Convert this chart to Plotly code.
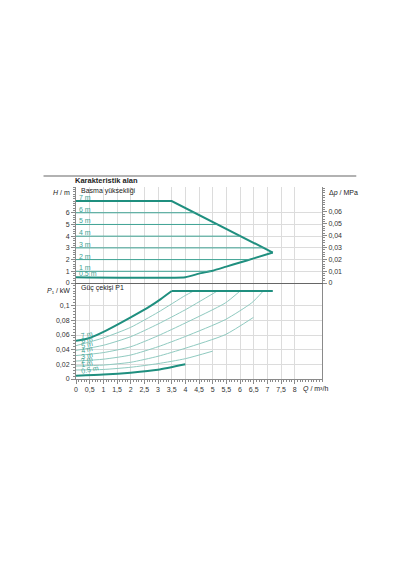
import plotly.graph_objects as go

# --- data ---
# head field (top panel)
q_upper = [0, 3.5, 7.2]
h_upper = [7, 7, 2.6]
q_lower = [0, 4.0, 4.5, 5.0, 5.5, 6.0, 6.5, 7.2]
h_lower = [0.5, 0.5, 0.8, 1.05, 1.4, 1.75, 2.1, 2.6]

head_levels = [6, 5, 4, 3, 2, 1]
head_line_end = [4.34, 5.18, 6.02, 6.86, 6.36, 4.95]
head_labels = ["7 m", "6 m", "5 m", "4 m", "3 m", "2 m", "1 m", "0.5 m"]
head_label_y = [7, 6, 5, 4, 3, 2, 1, 0.5]

# power curves (bottom panel)
q_pmax = [0, 0.5, 1.1, 2.0, 2.7, 3.1, 3.5]
p_pmax = [0.052, 0.056, 0.066, 0.084, 0.099, 0.109, 0.120]
q_plimit = [3.5, 7.2]
p_plimit = [0.120, 0.120]
q_pmin = [0, 1, 2, 3, 4.0]
p_pmin = [0.0045, 0.006, 0.0086, 0.0125, 0.020]

q_p = [
    [0, 1, 2, 3, 4, 4.3],
    [0, 1, 2, 3, 4, 5.17],
    [0, 1, 2, 3, 4, 5.46, 6.0],
    [0, 1, 2, 3, 4, 5.46, 6.43, 6.85],
    [0, 1, 2, 3, 4, 5.46, 6.49],
    [0, 1, 2, 3, 4, 5.0],
]
p_p = [
    [0.0455, 0.056, 0.0705, 0.091, 0.114, 0.120],
    [0.039, 0.046, 0.0577, 0.075, 0.0945, 0.120],
    [0.032, 0.036, 0.044, 0.059, 0.0764, 0.1037, 0.120],
    [0.0245, 0.027, 0.0327, 0.044, 0.058, 0.081, 0.104, 0.120],
    [0.0177, 0.019, 0.0228, 0.031, 0.042, 0.0605, 0.084],
    [0.0123, 0.013, 0.016, 0.021, 0.0277, 0.038],
]
p_label_y = [0.052, 0.0455, 0.039, 0.032, 0.0245, 0.0177, 0.0123, 0.0045]

x_ticks = [i * 0.5 for i in range(17)]
x_ticktext = ["0", "0,5", "1", "1,5", "2", "2,5", "3", "3,5", "4", "4,5",
              "5", "5,5", "6", "6,5", "7", "7,5", "8"]

thick = "#1f8f7f"
mid = "#3ea394"
thin = "#8fcac0"
grid = "#dcdcdc"
axc = "#8a8a8a"
font = "Liberation Sans, Arial, sans-serif"

# plot area in page pixels (page body has an 8px margin)
L, R, T, B = 75.5, 321.7, 187, 379
OFF = 8


def px(x, y):
    return (x - L) / (R - L), (B - y) / (B - T)


fig = go.Figure()

# top panel
fig.add_trace(go.Scatter(x=q_upper, y=h_upper, xaxis="x2", yaxis="y2", mode="lines",
                         line=dict(color=thick, width=2), hoverinfo="skip"))
fig.add_trace(go.Scatter(x=q_lower, y=h_lower, xaxis="x2", yaxis="y2", mode="lines",
                         line=dict(color=thick, width=2, shape="spline", smoothing=0.5),
                         hoverinfo="skip"))
for h, qe in zip(head_levels, head_line_end):
    fig.add_trace(go.Scatter(x=[0, qe], y=[h, h], xaxis="x2", yaxis="y2", mode="lines",
                             line=dict(color=mid, width=1), hoverinfo="skip"))

# bottom panel
for qs, ps in zip(q_p, p_p):
    fig.add_trace(go.Scatter(x=qs, y=ps, xaxis="x", yaxis="y", mode="lines",
                             line=dict(color=thin, width=1, shape="spline", smoothing=0.6),
                             hoverinfo="skip"))
fig.add_trace(go.Scatter(x=q_pmax, y=p_pmax, xaxis="x", yaxis="y", mode="lines",
                         line=dict(color=thick, width=2, shape="spline", smoothing=0.6),
                         hoverinfo="skip"))
fig.add_trace(go.Scatter(x=q_plimit, y=p_plimit, xaxis="x", yaxis="y", mode="lines",
                         line=dict(color=thick, width=2), hoverinfo="skip"))
fig.add_trace(go.Scatter(x=q_pmin, y=p_pmin, xaxis="x", yaxis="y", mode="lines",
                         line=dict(color=thick, width=2, shape="spline", smoothing=0.6),
                         hoverinfo="skip"))
# invisible trace so the right axis is drawn
fig.add_trace(go.Scatter(x=[0], y=[0], xaxis="x2", yaxis="y3", mode="markers",
                         marker=dict(opacity=0), hoverinfo="skip"))

ann = []
for lab, hy in zip(head_labels, head_label_y):
    ann.append(dict(x=0, y=hy, xref="x2", yref="y2", text=lab, showarrow=False,
                    xanchor="left", yanchor="bottom", xshift=1, yshift=-2,
                    font=dict(size=7, color=mid)))
for lab, py in zip(head_labels, p_label_y):
    ann.append(dict(x=0, y=py, xref="x", yref="y", text=lab, showarrow=False,
                    xanchor="left", yanchor="bottom", xshift=2, yshift=-1, textangle=-12,
                    font=dict(size=7, color=mid)))

texts = [
    (72, 180, "<b>Karakteristik alan</b>", "left", 7.5),
    (79, 191, "Basma yüksekliği", "left", 7),
    (79, 288, "Güç çekişi P1", "left", 7),
    (71, 192, "<i>H</i> / m", "right", 7),
    (71, 290, "<i>P</i>₁ / kW", "right", 7),
    (327, 193, "Δ<i>p</i> / MPa", "left", 7),
    (301, 389, "<i>Q</i> / m³/h", "left", 7),
]
for x, y, t, xa, fs in texts:
    fx, fy = px(x, y)
    ann.append(dict(x=fx, y=fy, xref="paper", yref="paper", text=t, showarrow=False,
                    xanchor=xa, yanchor="middle", font=dict(size=fs, color="#222")))

sx0, sy = px(43, 176)
sx1, _ = px(356, 176)

common_x = dict(range=[0, 9], showgrid=True, gridcolor=grid, gridwidth=1,
                tickvals=x_ticks, zeroline=False, showline=True, linecolor=axc)

fig.update_layout(
    width=400, height=570,
    margin=dict(l=L - OFF, r=400 + OFF - R, t=T - OFF, b=570 + OFF - B, pad=0),
    paper_bgcolor="white", plot_bgcolor="white",
    showlegend=False, separators=",.",
    font=dict(family=font, size=7, color="#333"),
    xaxis=dict(common_x, anchor="y", ticktext=x_ticktext, ticks="outside", ticklen=4,
               tickcolor=axc, tickfont=dict(size=7, color="#333"),
               minor=dict(dtick=0.1, ticks="outside", ticklen=2, tickcolor=axc, showgrid=False)),
    xaxis2=dict(common_x, anchor="y2", matches="x", showticklabels=False, ticks="",
                linecolor="#666"),
    yaxis=dict(domain=[0, 0.5], range=[0, 0.131], tickvals=[0, 0.02, 0.04, 0.06, 0.08, 0.1],
               showgrid=True, gridcolor=grid, zeroline=False, showline=True, linecolor=axc,
               mirror=True, ticks="outside", ticklen=4, tickcolor=axc,
               minor=dict(dtick=0.004, ticks="outside", ticklen=2, tickcolor=axc, showgrid=False)),
    yaxis2=dict(domain=[0.5, 1], range=[0, 8.2], tickvals=[0, 1, 2, 3, 4, 5, 6],
                showgrid=True, gridcolor=grid, zeroline=False, showline=True, linecolor=axc,
                ticks="outside", ticklen=4, tickcolor=axc,
                minor=dict(dtick=0.2, ticks="outside", ticklen=2, tickcolor=axc, showgrid=False)),
    yaxis3=dict(overlaying="y2", side="right", anchor="x2", range=[0, 0.081],
                tickvals=[0, 0.01, 0.02, 0.03, 0.04, 0.05, 0.06], showgrid=False,
                zeroline=False, showline=True, linecolor=axc, ticks="outside", ticklen=4,
                tickcolor=axc,
                minor=dict(dtick=0.002, ticks="outside", ticklen=2, tickcolor=axc)),
    annotations=ann,
    shapes=[dict(type="line", xref="paper", yref="paper", x0=sx0, x1=sx1, y0=sy, y1=sy,
                 line=dict(color="#999", width=1.5))],
)

fig.write_html("out.html")
